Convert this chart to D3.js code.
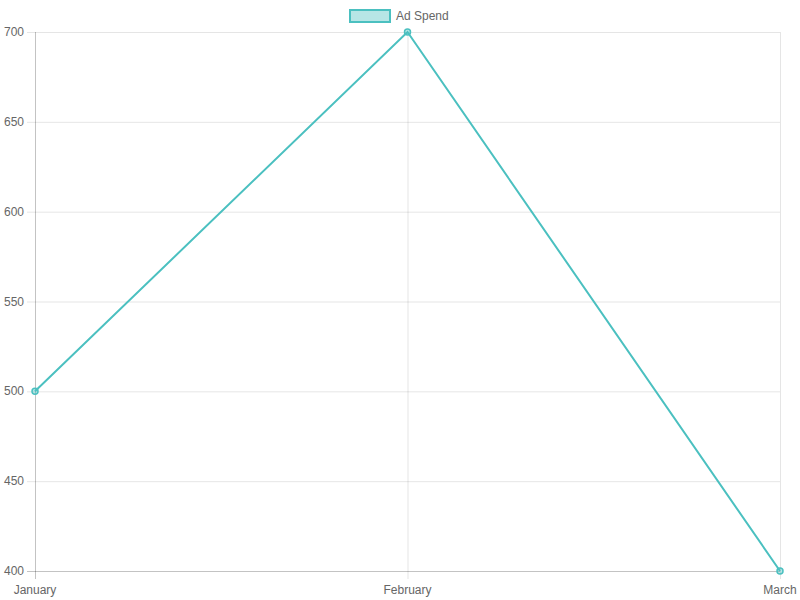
<!DOCTYPE html>
<html><head><meta charset="utf-8">
<script src="https://cdn.jsdelivr.net/npm/d3@7"></script>
<style>body{margin:0;background:#fff}svg{display:block}text{font-family:"Liberation Sans",Arial,sans-serif;font-size:12px;fill:#666}</style>
</head><body><svg id="c" width="800" height="600"></svg>
<script>
const categories = ["January", "February", "March"];
const adSpend = [500, 700, 400];
const yTicks = [400, 450, 500, 550, 600, 650, 700];
const seriesName = "Ad Spend";

(function () {
const svg = d3.select("#c");
const pl = 35, pr = 780, pt = 32, pb = 571;
const x = d3.scalePoint().domain(categories).range([pl, pr]);
const y = d3.scaleLinear().domain([400, 700]).range([pb, pt]);
const grid = "rgba(0,0,0,0.1)";
const col = "rgb(75,192,192)", fillc = "rgba(75,192,192,0.4)";

svg.append("g").selectAll("line").data(yTicks).join("line")
  .attr("x1", pl - 8).attr("x2", pr).attr("y1", d => y(d) + 0.5).attr("y2", d => y(d) + 0.5)
  .attr("stroke", grid).attr("stroke-width", 1);
svg.append("g").selectAll("line").data(categories).join("line")
  .attr("x1", d => x(d) + 0.5).attr("x2", d => x(d) + 0.5).attr("y1", pt).attr("y2", pb + 8)
  .attr("stroke", grid).attr("stroke-width", 1);
svg.append("line").attr("x1", pl + 0.5).attr("x2", pl + 0.5).attr("y1", pt).attr("y2", pb + 8).attr("stroke", "rgba(0,0,0,0.15)");
svg.append("line").attr("x1", pl - 8).attr("x2", pr).attr("y1", pb + 0.5).attr("y2", pb + 0.5).attr("stroke", "rgba(0,0,0,0.15)");

svg.append("g").selectAll("text").data(yTicks).join("text")
  .attr("x", 24).attr("y", d => y(d) + 4).attr("text-anchor", "end").text(d => d);
svg.append("g").selectAll("text").data(categories).join("text")
  .attr("x", d => x(d)).attr("y", 594).attr("text-anchor", "middle").text(d => d);

const pts = categories.map((c, i) => [x(c), y(adSpend[i])]);
svg.append("path").attr("d", d3.line()(pts)).attr("fill", "none").attr("stroke", col).attr("stroke-width", 2);
svg.append("g").selectAll("circle").data(pts).join("circle")
  .attr("cx", d => d[0]).attr("cy", d => d[1]).attr("r", 3)
  .attr("fill", fillc).attr("stroke", col).attr("stroke-width", 1.5);

const lg = svg.append("g");
lg.append("rect").attr("x", 350).attr("y", 10).attr("width", 40).attr("height", 12)
  .attr("fill", fillc).attr("stroke", col).attr("stroke-width", 2);
lg.append("text").attr("x", 396).attr("y", 20).text(seriesName);
})();
</script></body></html>
